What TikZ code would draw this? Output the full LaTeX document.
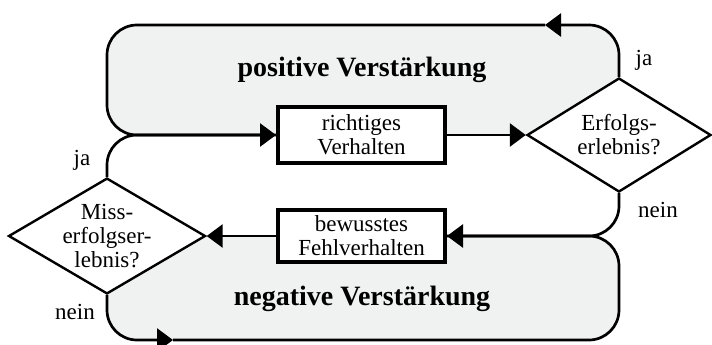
\documentclass[tikz,border=0pt]{standalone}
\usepackage{fontspec}
\setmainfont{Liberation Serif}
\usepackage{xcolor}
\usetikzlibrary{shapes.geometric,arrows.meta,backgrounds}
\definecolor{regionfill}{RGB}{240,241,241}

\tikzset{
  txt/.style={font=\fontsize{11.5}{12}\selectfont, align=center},
  actbox/.style={txt, draw, line width=2pt, fill=white, minimum width=83.5pt, inner sep=0pt},
  decision/.style={txt, diamond, draw, line width=1.2pt, fill=white, inner sep=0pt, shape aspect=1.7},
  loopline/.style={line width=1.35pt, rounded corners=15pt},
  flow/.style={line width=1.35pt, -{Triangle[length=8pt,width=11.5pt]}},
  title/.style={font=\fontsize{14}{16}\selectfont\bfseries},
  lbl/.style={txt}
}

\begin{document}
\begin{tikzpicture}[x=0.5pt, y=-0.5pt]
    \useasboundingbox (0,0) rectangle (712,344);

    % Actions
    \node[actbox, minimum height=28pt] (richtig) at (361.5,135) {richtiges\\Verhalten};
    \node[actbox, minimum height=26pt] (bewusst) at (361.5,236) {bewusstes\\Fehlverhalten};

    % Decisions
    \node[decision, minimum width=92pt, minimum height=57pt] (erfolg) at (619,135) {Erfolgs-\\erlebnis?};
    \node[decision, minimum width=95pt, minimum height=57pt] (miss) at (107,236) {Miss-\\erfolgser-\\lebnis?};

    % Loop points
    \coordinate (topmid) at (545,25);
    \coordinate (botmid) at (173,340);

    % Regions
    \begin{scope}[on background layer]
        \fill[regionfill, rounded corners=15pt] (erfolg.center) -- (erfolg.center |- topmid)
            -- (miss.north |- topmid) -- (miss.north |- richtig.west) -- cycle;
        \fill[regionfill, rounded corners=15pt] (miss.center) -- (miss.center |- botmid)
            -- (erfolg.south |- botmid) -- (erfolg.south |- bewusst.east) -- cycle;
    \end{scope}

    % Titles
    \node[title] (pos) at (362,70) {positive Verstärkung};
    \node[title] (neg) at (362,299) {negative Verstärkung};

    % Labels
    \node[lbl] (jaoben) at (644,60) {ja};
    \node[lbl] (jalinks) at (82,160) {ja};
    \node[lbl] (neinrechts) at (658,210) {nein};
    \node[lbl] (neinlinks) at (75,312) {nein};

    % Arrows
    \draw[flow] (richtig.east) -- (erfolg.west);
    \draw[flow] (bewusst.west) -- (miss.east);
    \draw[flow, loopline] (erfolg.north) |- (topmid);
    \draw[flow, loopline] (topmid) -- (miss.north |- topmid) -- (miss.north |- richtig.west) -- (richtig.west);
    \draw[loopline] (miss.north) |- (richtig.west);
    \draw[flow, loopline] (miss.south) |- (botmid);
    \draw[flow, loopline] (botmid) -- (erfolg.south |- botmid) -- (erfolg.south |- bewusst.east) -- (bewusst.east);
    \draw[loopline] (erfolg.south) |- (bewusst.east);
\end{tikzpicture}
\end{document}
